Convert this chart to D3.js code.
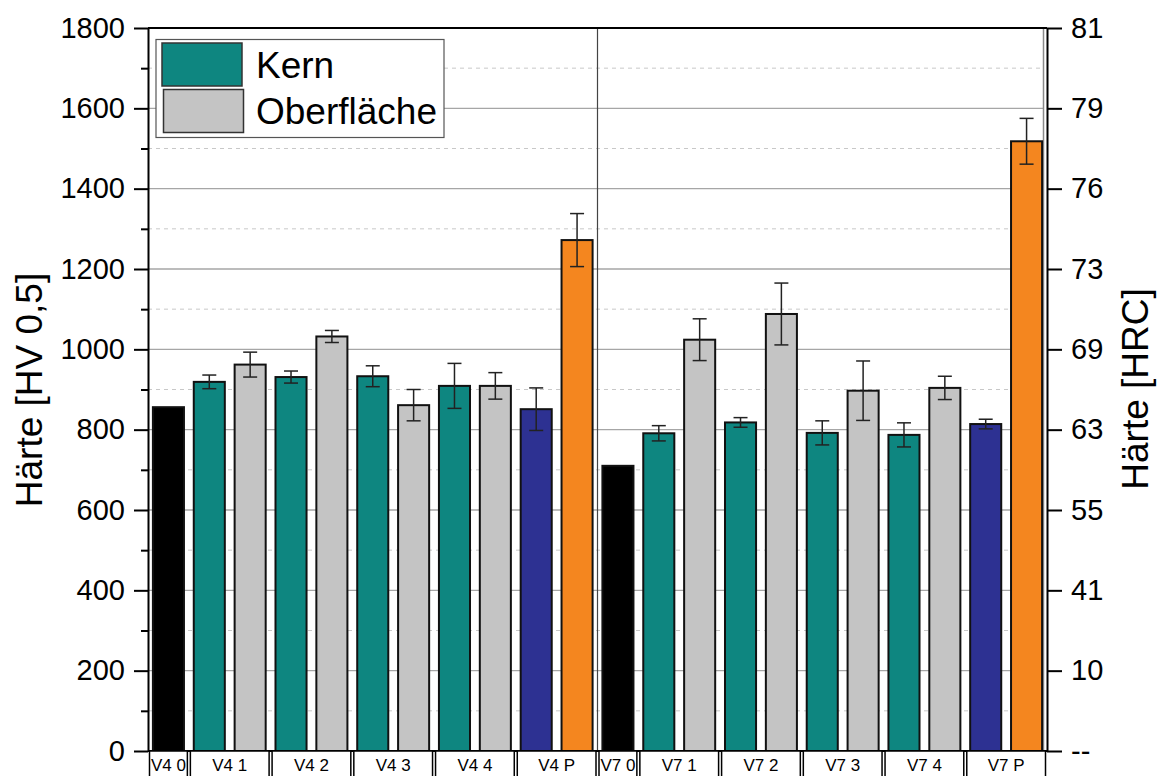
<!DOCTYPE html>
<html>
<head>
<meta charset="utf-8">
<script src="https://cdn.jsdelivr.net/npm/d3@7"></script>
<style>
  html, body { margin: 0; padding: 0; background: #fff; }
  svg { display: block; font-family: "Liberation Sans", Arial, Helvetica, sans-serif; }
</style>
</head>
<body>
<svg id="chart" width="1165" height="776"></svg>
<script>
// Sample groups shown in the label row under the bars
const groups = ["V4 0", "V4 1", "V4 2", "V4 3", "V4 4", "V4 P",
                "V7 0", "V7 1", "V7 2", "V7 3", "V7 4", "V7 P"];

// One entry per bar, left to right
const barGroup = ["V4 0", "V4 1", "V4 1", "V4 2", "V4 2", "V4 3", "V4 3", "V4 4", "V4 4", "V4 P", "V4 P",
                  "V7 0", "V7 1", "V7 1", "V7 2", "V7 2", "V7 3", "V7 3", "V7 4", "V7 4", "V7 P", "V7 P"];
const barType  = ["basis", "kern", "ober", "kern", "ober", "kern", "ober", "kern", "ober", "kernP", "oberP",
                  "basis", "kern", "ober", "kern", "ober", "kern", "ober", "kern", "ober", "kernP", "oberP"];
// Hardness HV 0,5 (mean) and standard deviation
const barValue = [856, 919, 962, 931, 1032, 933, 861, 909, 909, 851, 1272,
                  710, 791, 1024, 818, 1088, 792, 897, 787, 904, 814, 1518];
const barError = [0, 17, 31, 15, 15, 26, 39, 56, 33, 53, 66,
                  0, 19, 52, 12, 77, 30, 74, 30, 29, 12, 57];

// Axis ticks
const hvTicks    = [0, 200, 400, 600, 800, 1000, 1200, 1400, 1600, 1800];
const hvMinor    = [100, 300, 500, 700, 900, 1100, 1300, 1500, 1700];
const hrcLabels  = ["--", "10", "41", "55", "63", "69", "73", "76", "79", "81"];

// Legend entries
const legendLabels = ["Kern", "Oberfläche"];
const legendTypes  = ["kern", "ober"];

const colors = {
  basis: "#000000",
  kern:  "#0e8680",
  ober:  "#c4c4c4",
  kernP: "#2d3192",
  oberP: "#f4861f"
};

const svg = d3.select("#chart");
const plotL = 148, plotR = 1047, plotT = 28, plotB = 751;

const x = d3.scaleBand()
  .domain(d3.range(barValue.length))
  .range([plotL, plotR])
  .paddingInner(0.24)
  .paddingOuter(0.12);
const y = d3.scaleLinear().domain([0, 1800]).range([plotB, plotT]);

const step = x.step();
const slotStart = i => x(i) - step * x.paddingInner() / 2;
const slotEnd = i => slotStart(i) + step;

// Grid
const grid = svg.append("g");
grid.selectAll("line.minor").data(hvMinor).join("line")
  .attr("class", "minor")
  .attr("x1", plotL).attr("x2", plotR - 3)
  .attr("y1", d => y(d)).attr("y2", d => y(d))
  .attr("stroke", "#c8c8c8").attr("stroke-width", 1)
  .attr("stroke-dasharray", "4,4");
grid.selectAll("line.major").data(hvTicks.filter(d => d > 0 && d < 1800)).join("line")
  .attr("class", "major")
  .attr("x1", plotL).attr("x2", plotR - 3)
  .attr("y1", d => y(d)).attr("y2", d => y(d))
  .attr("stroke", "#a6a6a6").attr("stroke-width", 1.3);

// Divider between the V4 and V7 series
const splitIdx = barGroup.indexOf("V7 0");
svg.append("line")
  .attr("x1", slotStart(splitIdx)).attr("x2", slotStart(splitIdx))
  .attr("y1", plotT).attr("y2", plotB)
  .attr("stroke", "#444").attr("stroke-width", 1.2);

// Inner frame line on the right
svg.append("line")
  .attr("x1", plotR - 3.5).attr("x2", plotR - 3.5)
  .attr("y1", plotT).attr("y2", plotB)
  .attr("stroke", "#8a8a8a").attr("stroke-width", 1.5);

// Bars
svg.append("g").selectAll("rect").data(barValue).join("rect")
  .attr("x", (d, i) => x(i))
  .attr("width", x.bandwidth())
  .attr("y", d => y(d))
  .attr("height", d => y(0) - y(d))
  .attr("fill", (d, i) => colors[barType[i]])
  .attr("stroke", "#111")
  .attr("stroke-width", 2);

// Error bars
const eb = svg.append("g").attr("stroke", "#222").attr("stroke-width", 1.5);
barValue.forEach((v, i) => {
  const e = barError[i];
  if (!e) return;
  const cx = x(i) + x.bandwidth() / 2;
  eb.append("line").attr("x1", cx).attr("x2", cx).attr("y1", y(v + e)).attr("y2", y(v - e));
  eb.append("line").attr("x1", cx - 7).attr("x2", cx + 7).attr("y1", y(v + e)).attr("y2", y(v + e));
  eb.append("line").attr("x1", cx - 7).attr("x2", cx + 7).attr("y1", y(v - e)).attr("y2", y(v - e));
});

// Left axis
const axL = svg.append("g").attr("transform", `translate(${plotL},0)`)
  .call(d3.axisLeft(y).tickValues(hvTicks).tickFormat(d3.format("d")).tickSize(14).tickSizeOuter(0).tickPadding(9));
const axLm = svg.append("g").attr("transform", `translate(${plotL},0)`)
  .call(d3.axisLeft(y).tickValues(hvMinor).tickFormat("").tickSize(7).tickSizeOuter(0));
axLm.select(".domain").remove();

// Right axis (HRC equivalents)
const axR = svg.append("g").attr("transform", `translate(${plotR},0)`)
  .call(d3.axisRight(y).tickValues(hvTicks).tickFormat((d, i) => hrcLabels[i]).tickSize(15).tickSizeOuter(0).tickPadding(9));

[axL, axLm, axR].forEach(g => {
  g.selectAll(".domain").attr("stroke", "#000").attr("stroke-width", 2);
  g.selectAll(".tick line").attr("stroke", "#000").attr("stroke-width", 2);
  g.selectAll(".tick text").attr("fill", "#000").attr("font-size", 29)
    .attr("font-family", "Liberation Sans, Arial, sans-serif");
});

// Top and bottom frame lines
svg.append("line").attr("x1", plotL).attr("x2", plotR).attr("y1", plotT).attr("y2", plotT)
  .attr("stroke", "#000").attr("stroke-width", 2);
svg.append("line").attr("x1", plotL).attr("x2", plotR).attr("y1", plotB).attr("y2", plotB)
  .attr("stroke", "#000").attr("stroke-width", 2);

// Axis titles
svg.append("text")
  .attr("transform", "translate(42,390) rotate(-90)")
  .attr("text-anchor", "middle").attr("font-size", 37).attr("fill", "#000")
  .text("Härte [HV 0,5]");
svg.append("text")
  .attr("transform", "translate(1148,389) rotate(-90)")
  .attr("text-anchor", "middle").attr("font-size", 37).attr("fill", "#000")
  .text("Härte [HRC]");

// Group label boxes below the axis
const lab = svg.append("g");
groups.forEach(g => {
  const idx = barGroup.map((b, i) => b === g ? i : -1).filter(i => i >= 0);
  const x0 = slotStart(idx[0]) + 1.5;
  const x1 = slotEnd(idx[idx.length - 1]) - 1.5;
  lab.append("rect")
    .attr("x", x0).attr("y", plotB).attr("width", x1 - x0).attr("height", 40)
    .attr("fill", "#fff").attr("stroke", "#000").attr("stroke-width", 1.5);
  lab.append("text")
    .attr("x", (x0 + x1) / 2).attr("y", 770.5)
    .attr("text-anchor", "middle").attr("font-size", 17).attr("fill", "#000")
    .text(g);
});

// Legend
const lg = svg.append("g");
lg.append("rect").attr("x", 156).attr("y", 39.5).attr("width", 288).attr("height", 98)
  .attr("fill", "#fff").attr("stroke", "#555").attr("stroke-width", 1.2);
legendLabels.forEach((t, i) => {
  lg.append("rect")
    .attr("x", 162 + i * 1.5).attr("y", 43 + i * 46.5).attr("width", 80).attr("height", 43)
    .attr("fill", colors[legendTypes[i]]).attr("stroke", "#333").attr("stroke-width", 1.5);
  lg.append("text")
    .attr("x", 256).attr("y", 77.5 + i * 46)
    .attr("font-size", 37).attr("fill", "#000")
    .text(t);
});
</script>
</body>
</html>
